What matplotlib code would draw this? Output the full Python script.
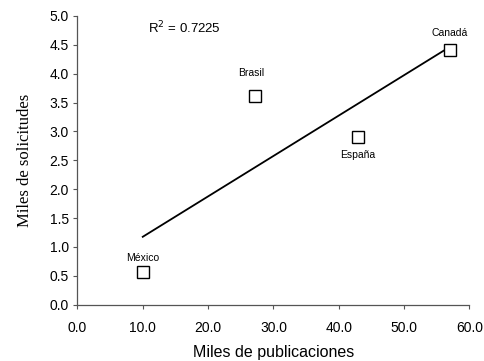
import numpy as np
import matplotlib
matplotlib.use("Agg")
import matplotlib.pyplot as plt

countries = ["México", "Brasil", "España", "Canadá"]
publications = [10.0, 27.2, 42.9, 57.0]   # miles de publicaciones
applications = [0.56, 3.62, 2.91, 4.41]   # miles de solicitudes
r2_text = "R$^2$ = 0.7225"

# label offsets (points) relative to each marker
label_dx = [0, -3, 0, 0]
label_dy = [10, 16.5, -13, 12]

plt.rcParams["font.family"] = ["Liberation Sans", "DejaVu Sans"]

fig = plt.figure(figsize=(4.85, 3.61), dpi=100)
ax = fig.add_axes([0.1596, 0.156, 0.8084, 0.7997])

x = np.array(publications)
y = np.array(applications)
slope, intercept = np.polyfit(x, y, 1)
xl = np.array([x.min(), x.max()])
ax.plot(xl, slope * xl + intercept, color="black", lw=1.3, zorder=2)

ax.plot(x, y, linestyle="none", marker="s", markersize=8,
        markerfacecolor="white", markeredgecolor="black",
        markeredgewidth=1.0, zorder=3)

for name, xi, yi, dx, dy in zip(countries, x, y, label_dx, label_dy):
    ax.annotate(name, (xi, yi), xytext=(dx, dy), textcoords="offset points",
                ha="center", va="center", fontsize=7.5)

ax.text(10.8, 4.8, r2_text, fontsize=9.5, ha="left", va="center")

ax.set_xlim(0, 60)
ax.set_ylim(0, 5)
ax.set_xticks(np.arange(0, 61, 10))
ax.set_yticks(np.arange(0, 5.01, 0.5))
ax.set_xticklabels([f"{v:.1f}" for v in np.arange(0, 61, 10)])
ax.set_yticklabels([f"{v:.1f}" for v in np.arange(0, 5.01, 0.5)])
ax.tick_params(labelsize=10, direction="out", length=3, width=0.8,
               color="#555555", pad=3)
ax.tick_params(axis="x", pad=9)

for s in ("top", "right"):
    ax.spines[s].set_visible(False)
for s in ("left", "bottom"):
    ax.spines[s].set_color("#555555")
    ax.spines[s].set_linewidth(0.9)

ax.set_xlabel("Miles de publicaciones", fontsize=11.5, labelpad=7)
ax.set_ylabel("Miles de solicitudes", fontsize=12,
              family=["Liberation Serif", "DejaVu Serif"], labelpad=12)

fig.savefig("out.png", dpi=100)
